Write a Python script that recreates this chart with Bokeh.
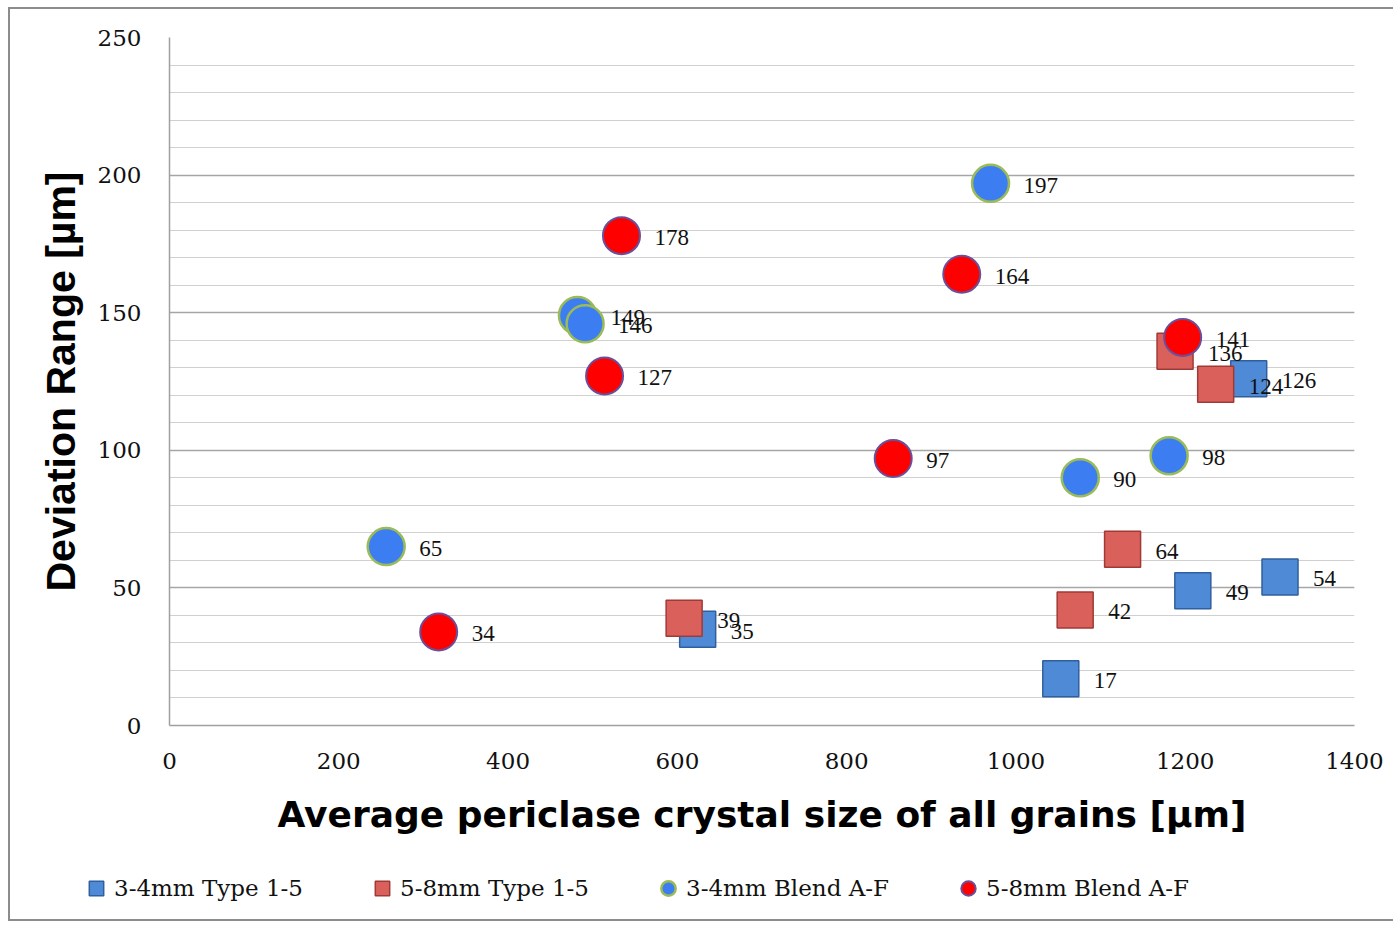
from bokeh.plotting import figure
from bokeh.models import (ColumnDataSource, Legend, LegendItem, Range1d, FixedTicker,
                          LabelSet)
from bokeh.embed import file_html
from bokeh.resources import INLINE

# ---- data ----
sq34_x = [624, 1053, 1209, 1312, 1275]
sq34_y = [35, 17, 49, 54, 126]

sq58_x = [608, 1070, 1126, 1188, 1236]
sq58_y = [39, 42, 64, 136, 124]

bl34_x = [256, 482, 491, 970, 1076, 1181]
bl34_y = [65, 149, 146, 197, 90, 98]

bl58_x = [318, 514, 534, 855, 936, 1197]
bl58_y = [34, 127, 178, 97, 164, 141]

series_names = ["3-4mm Type 1-5", "5-8mm Type 1-5", "3-4mm Blend A-F", "5-8mm Blend A-F"]
x_ticks = [0, 200, 400, 600, 800, 1000, 1200, 1400]
y_ticks = [0, 50, 100, 150, 200, 250]

SERIF = "DejaVu Serif"

styles = [
    dict(marker="square", size=36, fill_color="#4f8ad6", line_color="#2f5f9e", line_width=1.5),
    dict(marker="square", size=36, fill_color="#d9605b", line_color="#a03a36", line_width=1.5),
    dict(marker="circle", size=37, fill_color="#3c7ef2", line_color="#9bbb59", line_width=2.5),
    dict(marker="circle", size=37, fill_color="#ff0000", line_color="#6a4f9a", line_width=2),
]

W = 1385
H_MAIN = 850
H_LEG = 64

p = figure(width=W, height=H_MAIN, output_backend="svg", toolbar_location=None,
           x_range=Range1d(0, 1400), y_range=Range1d(0, 250),
           min_border_left=159, min_border_top=28, min_border_right=41,
           min_border_bottom=H_MAIN - 716)
p.outline_line_color = None
p.background_fill_color = "white"
p.styles = {"margin-left": "8px", "margin-top": "7px",
            "border-left": "2px solid #8c8c8c", "border-top": "2px solid #8c8c8c"}

# axes
p.xaxis.ticker = FixedTicker(ticks=x_ticks)
p.yaxis.ticker = FixedTicker(ticks=y_ticks, minor_ticks=list(range(0, 251, 10)))
for ax in (p.xaxis[0], p.yaxis[0]):
    ax.major_tick_line_color = None
    ax.minor_tick_line_color = None
    ax.axis_line_color = "#a0a0a0"
    ax.axis_line_width = 1.5
    ax.major_label_text_font = SERIF
    ax.major_label_text_font_size = "23px"
    ax.major_label_text_color = "#111111"
    ax.axis_label_text_font_style = "bold"
    ax.axis_label_text_color = "black"

p.xaxis.axis_label = "Average periclase crystal size of all grains [µm]"
p.xaxis.axis_label_text_font = "DejaVu Sans"
p.xaxis.axis_label_text_font_size = "36px"
p.xaxis.major_label_standoff = 21
p.xaxis.axis_label_standoff = 22

p.yaxis.axis_label = "Deviation Range [µm]"
p.yaxis.axis_label_text_font = "Liberation Sans"
p.yaxis.axis_label_text_font_size = "41px"
p.yaxis.major_label_standoff = 22
p.yaxis.axis_label_standoff = 11

p.xgrid.grid_line_color = None
p.ygrid.grid_line_color = "#a6a6a6"
p.ygrid.grid_line_width = 1.5
p.ygrid.minor_grid_line_color = "#d0d0d0"
p.ygrid.minor_grid_line_width = 1.2

# series
series = [(sq34_x, sq34_y), (sq58_x, sq58_y), (bl34_x, bl34_y), (bl58_x, bl58_y)]
for (xs, ys), st in zip(series, styles):
    src = ColumnDataSource(dict(x=xs, y=ys, t=[str(v) for v in ys]))
    p.scatter("x", "y", source=src, **st)
    p.add_layout(LabelSet(x="x", y="y", text="t", source=src, x_offset=33, y_offset=-2,
                          text_font=SERIF, text_font_size="23px", text_color="#111111",
                          text_baseline="middle", text_align="left"))

# legend strip: separate root figure below the chart; its glyphs lie outside its ranges
q = figure(width=W, height=H_LEG, output_backend="svg", toolbar_location=None,
           x_axis_type=None, y_axis_type=None, min_border=0,
           x_range=Range1d(-2, -1), y_range=Range1d(-2, -1))
q.outline_line_color = None
q.xgrid.grid_line_color = None
q.ygrid.grid_line_color = None
q.styles = {"margin-left": "8px",
            "border-left": "2px solid #8c8c8c", "border-bottom": "2px solid #8c8c8c"}
items = []
for (xs, ys), name, st in zip(series, series_names, styles):
    r = q.scatter(x=xs[:1], y=ys[:1], **st)
    items.append(LegendItem(label=name, renderers=[r]))

legend = Legend(items=items, orientation="horizontal", location=(68, 15))
legend.label_text_font = SERIF
legend.label_text_font_size = "23px"
legend.label_text_color = "#111111"
legend.glyph_width = 36
legend.glyph_height = 36
legend.label_standoff = 0
legend.spacing = 61
legend.border_line_color = None
legend.background_fill_alpha = 0
legend.padding = 0
legend.margin = 0
legend.label_height = 20
legend.label_width = 150
q.add_layout(legend)

open("out.html", "w").write(file_html([p, q], INLINE))
